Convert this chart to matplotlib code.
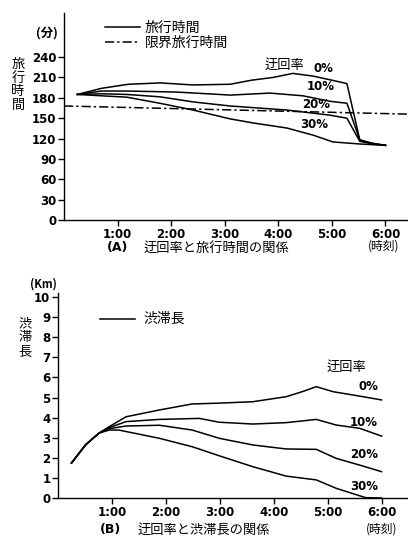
import matplotlib
matplotlib.use("Agg")
import matplotlib.pyplot as plt

W, H = 408, 538

# ── (A) travel time vs detour rate (hours, minutes) ──────────────────────
t0 = [0.25, 0.7, 1.2, 1.8, 2.4, 3.1, 3.5, 3.9, 4.27, 4.65, 5.0, 5.28, 5.52, 5.75, 6.0]
v0 = [185, 194, 200, 202, 199, 200, 206, 210, 216, 212, 206, 201, 118, 113, 110]
t10 = [0.25, 0.7, 1.2, 2.1, 2.9, 3.1, 3.84, 4.46, 4.96, 5.28, 5.52, 5.75, 6.0]
v10 = [185, 190, 190, 188.5, 185, 184, 187, 183, 175, 172, 118, 113, 110]
t20 = [0.25, 0.7, 1.17, 1.79, 2.41, 3.1, 4.16, 4.96, 5.28, 5.52, 5.75, 6.0]
v20 = [185, 186, 185, 181.5, 174, 168, 162, 154.5, 150, 116, 112, 110]
t30 = [0.25, 0.7, 1.17, 1.79, 2.41, 3.1, 3.53, 4.16, 4.65, 5.02, 5.52, 6.0]
v30 = [185, 183, 181, 172, 162, 149, 143, 135.5, 125, 115, 112, 110]
limit_t = [0.0, 6.42]
limit_v = [168, 156]
yticks_a = [0, 30, 60, 90, 120, 150, 180, 210, 240]

# ── (B) queue length vs detour rate (hours, km) ──────────────────────────
b_t0 = [0.25, 0.51, 0.76, 0.95, 1.26, 1.88, 2.49, 2.99, 3.61, 4.23, 4.54, 4.79, 5.1, 5.59, 6.0]
b_v0 = [1.74, 2.64, 3.23, 3.55, 4.04, 4.38, 4.68, 4.72, 4.79, 5.04, 5.3, 5.54, 5.29, 5.07, 4.88]
b_t10 = [0.25, 0.51, 0.76, 0.95, 1.26, 1.88, 2.62, 2.99, 3.61, 4.23, 4.79, 5.16, 5.59, 6.0]
b_v10 = [1.74, 2.64, 3.23, 3.5, 3.8, 3.91, 3.96, 3.77, 3.68, 3.75, 3.91, 3.63, 3.47, 3.08]
b_t20 = [0.25, 0.51, 0.76, 0.95, 1.26, 1.88, 2.49, 2.99, 3.61, 4.23, 4.79, 5.16, 5.59, 6.0]
b_v20 = [1.74, 2.64, 3.23, 3.45, 3.58, 3.62, 3.38, 2.97, 2.64, 2.44, 2.42, 1.97, 1.64, 1.31]
b_t30 = [0.25, 0.51, 0.76, 0.95, 1.13, 1.88, 2.49, 2.99, 3.61, 4.23, 4.79, 5.16, 5.7, 6.0]
b_v30 = [1.74, 2.64, 3.23, 3.38, 3.38, 2.97, 2.55, 2.1, 1.56, 1.09, 0.9, 0.48, 0.02, 0.0]
yticks_b = list(range(11))

hours = [1, 2, 3, 4, 5, 6]
hour_labels = ["1:00", "2:00", "3:00", "4:00", "5:00", "6:00"]

JP = ["Noto Sans CJK JP", "DejaVu Sans"]
LW = 1.1
DASHDOT = (0, (6, 2, 1.5, 2))


def fx(x):
    return x / W


def fy(y):
    return 1 - y / H


def style_axes(ax):
    for s in ("top", "right"):
        ax.spines[s].set_visible(False)
    for s in ("left", "bottom"):
        ax.spines[s].set_linewidth(1.0)
    ax.set_xticks(hours)
    ax.set_xticklabels(hour_labels)
    ax.tick_params(direction="out", length=4, width=1.0, pad=1.5, labelsize=8.5)
    for lab in ax.get_xticklabels() + ax.get_yticklabels():
        lab.set_fontweight("bold")
        lab.set_family("DejaVu Sans")


fig = plt.figure(figsize=(W / 100, H / 100), dpi=100)
fig.patch.set_facecolor("white")

# (A)
ax1 = fig.add_axes([fx(64), fy(220), 1 - fx(64), (220 - 13) / H])
ax1.set_xlim(0, 6.42)
ax1.set_ylim(0, 305)
ax1.set_yticks(yticks_a)
style_axes(ax1)
for t, v in ((t0, v0), (t10, v10), (t20, v20), (t30, v30)):
    ax1.plot(t, v, color="black", lw=LW)
ax1.plot(limit_t, limit_v, color="black", lw=LW, linestyle=DASHDOT)

fig.text(fx(47), fy(33), "(分)", family=JP, fontsize=9, fontweight="bold",
         ha="center", va="center")
fig.text(fx(18), fy(85), "旅\n行\n時\n間", family=JP, fontsize=9.5,
         ha="center", va="center", linespacing=1.1)
fig.lines.append(plt.Line2D([fx(105), fx(140)], [fy(27), fy(27)],
                            transform=fig.transFigure, color="black", lw=LW))
fig.lines.append(plt.Line2D([fx(105), fx(140)], [fy(42), fy(42)],
                            transform=fig.transFigure, color="black", lw=LW,
                            linestyle=DASHDOT))
fig.text(fx(145), fy(28), "旅行時間", family=JP, fontsize=10, va="center")
fig.text(fx(145), fy(43), "限界旅行時間", family=JP, fontsize=10, va="center")
fig.text(fx(265), fy(65), "迂回率", family=JP, fontsize=9.5, va="center")
fig.text(fx(313), fy(69), "0%", fontsize=8.5, fontweight="bold", va="center")
fig.text(fx(307), fy(87), "10%", fontsize=8.5, fontweight="bold", va="center")
fig.text(fx(302), fy(105), "20%", fontsize=8.5, fontweight="bold", va="center")
fig.text(fx(300), fy(125), "30%", fontsize=8.5, fontweight="bold", va="center")
fig.text(fx(107), fy(248), "(A)", fontsize=9, fontweight="bold", va="center")
fig.text(fx(144), fy(248), "迂回率と旅行時間の関係", family=JP, fontsize=9.5, va="center")
fig.text(fx(384), fy(246), "(時刻)", family=JP, fontsize=8.5, ha="center", va="center")

# (B)
ax2 = fig.add_axes([fx(58), fy(498), 1 - fx(58), (498 - 293) / H])
ax2.set_xlim(0, 6.49)
ax2.set_ylim(0, 10.2)
ax2.set_yticks(yticks_b)
style_axes(ax2)
for t, v in ((b_t0, b_v0), (b_t10, b_v10), (b_t20, b_v20), (b_t30, b_v30)):
    ax2.plot(t, v, color="black", lw=LW)

fig.text(fx(43), fy(284), "(Km)", family=JP, fontsize=8, fontweight="bold",
         ha="center", va="center")
fig.text(fx(25), fy(338), "渋\n滞\n長", family=JP, fontsize=9.5,
         ha="center", va="center", linespacing=1.1)
fig.lines.append(plt.Line2D([fx(100), fx(135)], [fy(319), fy(319)],
                            transform=fig.transFigure, color="black", lw=LW))
fig.text(fx(143), fy(319), "渋滞長", family=JP, fontsize=10, va="center")
fig.text(fx(327), fy(367), "迂回率", family=JP, fontsize=9.5, va="center")
fig.text(fx(378), fy(387), "0%", fontsize=8.5, fontweight="bold", ha="right", va="center")
fig.text(fx(378), fy(422), "10%", fontsize=8.5, fontweight="bold", ha="right", va="center")
fig.text(fx(378), fy(455), "20%", fontsize=8.5, fontweight="bold", ha="right", va="center")
fig.text(fx(378), fy(487), "30%", fontsize=8.5, fontweight="bold", ha="right", va="center")
fig.text(fx(100), fy(530), "(B)", fontsize=9, fontweight="bold", va="center")
fig.text(fx(138), fy(530), "迂回率と渋滞長の関係", family=JP, fontsize=9.5, va="center")
fig.text(fx(382), fy(529), "(時刻)", family=JP, fontsize=8.5, ha="center", va="center")

fig.savefig("out.png", dpi=100, facecolor="white")
